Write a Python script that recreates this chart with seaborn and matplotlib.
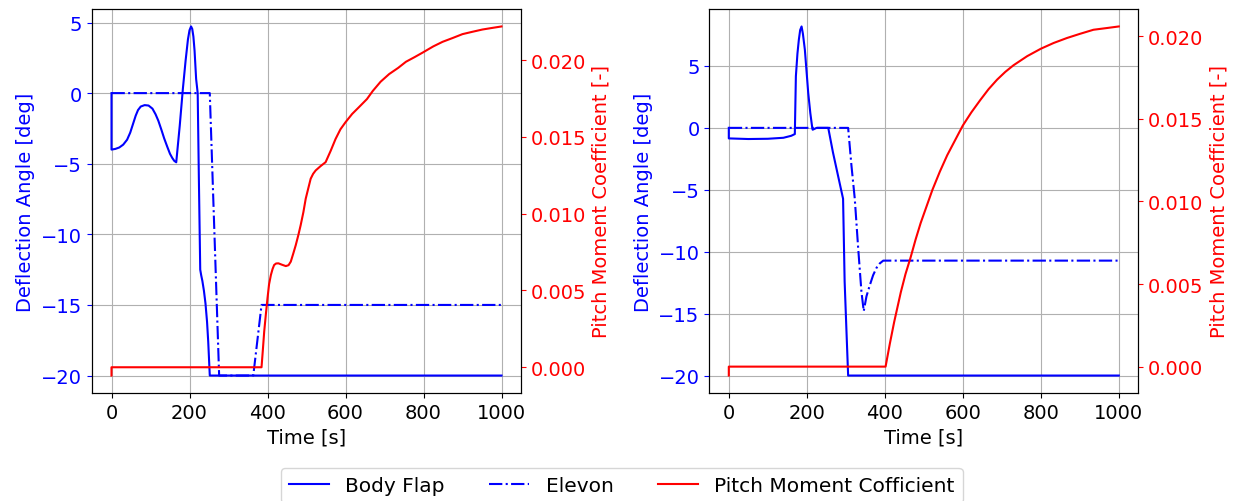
import matplotlib
matplotlib.use("Agg")
import matplotlib.pyplot as plt
from matplotlib.lines import Line2D
import seaborn as sns
import pandas as pd

# ---------------- data ----------------
# Left panel
l_flap_t = [0, 0, 10, 20, 30, 40, 48, 55, 62, 68, 75, 85, 95, 105, 113, 120, 128, 135, 143,
            150, 156, 161, 166, 175, 183, 190, 196, 200, 204, 207, 210, 213, 217, 221, 224,
            227.5, 230, 233, 237, 241, 245, 248, 252, 1000]
l_flap_v = [0, -4.0, -3.95, -3.85, -3.65, -3.3, -2.8, -2.2, -1.6, -1.2, -0.95, -0.85, -0.88,
            -1.1, -1.5, -1.95, -2.6, -3.2, -3.8, -4.3, -4.6, -4.8, -4.9, -2.3, 0.3, 2.3, 3.8,
            4.45, 4.72, 4.55, 4.0, 3.0, 1.0, 0.0, -6.0, -12.5, -12.9, -13.3, -14.0, -14.9,
            -16.2, -17.6, -20.0, -20.0]
l_elev_t = [0, 252, 276, 363.5, 384.7, 1000]
l_elev_v = [0, 0, -20, -20, -15, -15]
l_cm_t = [0, 0, 384.7, 388, 391.6, 396, 400, 404, 408.7, 413, 417, 422, 428, 437, 447, 454,
          459.7, 466, 472.4, 479, 485, 492, 498, 505, 510.7, 517, 523.5, 536, 549, 562, 574.5,
          587, 600, 617, 634, 655, 670, 690, 712, 735, 755, 777, 798, 825, 849, 875, 900, 925,
          951, 975, 1000]
l_cm_v = [-0.00054, 0.0, 0.0, 0.0011, 0.00234, 0.0035, 0.0045, 0.0054, 0.00601, 0.0064,
          0.00666, 0.00676, 0.00677, 0.00668, 0.00659, 0.00665, 0.00688, 0.0074, 0.00795,
          0.0086, 0.00925, 0.0101, 0.01098, 0.0117, 0.01228, 0.0126, 0.01282, 0.0131,
          0.01336, 0.0141, 0.01487, 0.0155, 0.01596, 0.0165, 0.01693, 0.01747, 0.0180, 0.0186,
          0.0191, 0.0195, 0.0199, 0.0202, 0.0205, 0.0209, 0.0212, 0.02145, 0.0217, 0.02185,
          0.0220, 0.0221, 0.0222]

# Right panel
r_flap_t = [0, 0, 50, 100, 140, 160, 169.3, 172, 176, 179.6, 183, 186.6, 190, 195, 203.6,
            209, 214, 215, 225, 255, 267, 280, 293, 297, 301.7, 306, 1000]
r_flap_v = [0, -0.85, -0.9, -0.88, -0.8, -0.64, -0.5, 4.17, 6.0, 7.12, 7.9, 8.19, 7.6, 6.32,
            2.84, 1.2, 0.0, -0.15, 0.0, 0.0, -1.97, -3.85, -5.72, -12.4, -16.4, -20.0, -20.0]
r_elev_t = [0, 306, 314.5, 323, 331.7, 340, 346, 353, 361.6, 370, 378.8, 387, 396, 1000]
r_elev_v = [0, 0, -3.05, -5.72, -9.7, -13.2, -14.8, -13.6, -12.7, -11.9, -11.3, -10.95,
            -10.72, -10.72]
r_cm_t = [0, 0, 402, 413, 424, 441, 453, 466, 479, 492, 507, 522, 541, 560, 580, 600, 622,
          645, 666, 688, 709, 730, 765, 800, 833, 867, 900, 935, 968, 1000]
r_cm_v = [-0.00054, 0.0, 0.0, 0.0014, 0.0027, 0.0045, 0.0056, 0.0066, 0.0077, 0.0087,
          0.0097, 0.0107, 0.0118, 0.0128, 0.0137, 0.0146, 0.0154, 0.01615, 0.0168, 0.01738,
          0.01785, 0.01825, 0.0188, 0.01925, 0.0196, 0.0199, 0.02015, 0.0204, 0.0205, 0.0206]

labels = ["Body Flap", "Elevon", "Pitch Moment Cofficient"]
xlabel = "Time [s]"
ylabel_l = "Deflection Angle [deg]"
ylabel_r = "Pitch Moment Coefficient [-]"
xticks = [0, 200, 400, 600, 800, 1000]

# ---------------- plotting ----------------
plt.rcParams["font.family"] = ["DejaVu Sans"]
FS = 14

fig = plt.figure(figsize=(12.36, 5.02), dpi=100)
W, H = 1236, 502
ax_pos = [
    [92 / W, 1 - 394 / H, (521 - 92) / W, 384 / H],
    [709.3 / W, 1 - 394 / H, (1138.3 - 709.3) / W, 384 / H],
]

panels = [
    (l_flap_t, l_flap_v, l_elev_t, l_elev_v, l_cm_t, l_cm_v),
    (r_flap_t, r_flap_v, r_elev_t, r_elev_v, r_cm_t, r_cm_v),
]

for pos, (ft, fv, et, ev, ct, cv) in zip(ax_pos, panels):
    ax = fig.add_axes(pos)
    df_f = pd.DataFrame({"t": ft, "v": fv})
    df_e = pd.DataFrame({"t": et, "v": ev})
    df_c = pd.DataFrame({"t": ct, "v": cv})
    sns.lineplot(data=df_f, x="t", y="v", ax=ax, color="blue", lw=1.5,
                 estimator=None, sort=False, legend=False)
    sns.lineplot(data=df_e, x="t", y="v", ax=ax, color="blue", lw=1.5, linestyle="-.",
                 estimator=None, sort=False, legend=False)
    ax.grid(True, color="#b0b0b0", lw=0.8)
    ax.set_axisbelow(True)
    ax.set_xlabel(xlabel, fontsize=FS)
    ax.set_ylabel(ylabel_l, color="blue", fontsize=FS)
    ax.tick_params(axis="y", colors="blue", labelsize=FS)
    ax.tick_params(axis="x", labelsize=FS)
    ax.set_xticks(xticks)

    ax2 = ax.twinx()
    sns.lineplot(data=df_c, x="t", y="v", ax=ax2, color="red", lw=1.5,
                 estimator=None, sort=False, legend=False)
    ax2.set_ylabel(ylabel_r, color="red", fontsize=FS)
    ax2.tick_params(axis="y", colors="red", labelsize=FS)
    ax2.yaxis.set_major_formatter(matplotlib.ticker.FormatStrFormatter("%.3f"))
    ax2.set_xlabel(xlabel)
    for sp in ax2.spines.values():
        sp.set_color("black")
    for sp in ax.spines.values():
        sp.set_color("black")

handles = [
    Line2D([], [], color="blue", lw=1.5, linestyle="-"),
    Line2D([], [], color="blue", lw=1.5, linestyle="-."),
    Line2D([], [], color="red", lw=1.5, linestyle="-"),
]
fig.legend(handles, labels, loc="upper center", bbox_to_anchor=(0.503, 0.086),
           ncol=3, fontsize=14.5, frameon=True, columnspacing=2.2)

fig.savefig("out.png", dpi=100)
